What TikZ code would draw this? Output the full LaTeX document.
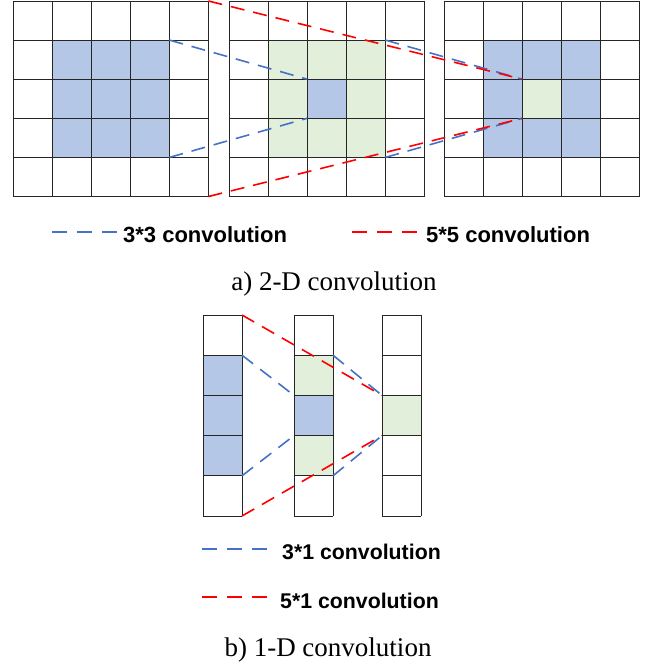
\documentclass[tikz,border=0pt]{standalone}
\usepackage{fontspec}
\setmainfont{Liberation Serif}
\newfontfamily\legfont{Liberation Sans}
\definecolor{cellblue}{HTML}{B4C7E7}
\definecolor{cellgreen}{HTML}{E2EFDA}
\definecolor{lineblue}{HTML}{4472C4}
\definecolor{linered}{HTML}{FF0000}
\begin{document}
\begin{tikzpicture}[x=1pt,y=-1pt,
  gridline/.style={draw=black!85,line width=0.8pt},
  conva/.style={draw=lineblue,line width=1.6pt,dash pattern=on 14pt off 9pt},
  convb/.style={draw=linered,line width=1.6pt,dash pattern=on 14pt off 9pt},
  legline/.style={line width=2pt,dash pattern=on 15pt off 10pt},
  legtext/.style={font=\legfont\bfseries\fontsize{22}{26}\selectfont,anchor=base west,inner sep=0pt},
  legtextb/.style={font=\legfont\bfseries\fontsize{21.3}{26}\selectfont,anchor=base west,inner sep=0pt},
  captext/.style={font=\fontsize{27}{32}\selectfont,anchor=base,inner sep=0pt}]
\useasboundingbox (0,0) rectangle (649,666);
\def\cs{39.1}
% ---------- 2-D grids: fills ----------
% grid A
\fill[cellblue] ({13+\cs},{1+\cs}) rectangle ({13+4*\cs},{1+4*\cs});
% grid B
\fill[cellgreen] ({229+\cs},{1+\cs}) rectangle ({229+4*\cs},{1+4*\cs});
\fill[cellblue] ({229+2*\cs},{1+2*\cs}) rectangle ({229+3*\cs},{1+3*\cs});
% grid C
\fill[cellblue] ({444+\cs},{1+\cs}) rectangle ({444+4*\cs},{1+4*\cs});
\fill[cellgreen] ({444+2*\cs},{1+2*\cs}) rectangle ({444+3*\cs},{1+3*\cs});
% grid lines
\foreach \gx in {13,229,444}{
  \foreach \i in {0,...,5}{
    \draw[gridline] ({\gx+\i*\cs},1) -- ({\gx+\i*\cs},{1+5*\cs});
    \draw[gridline] (\gx,{1+\i*\cs}) -- ({\gx+5*\cs},{1+\i*\cs});
  }
}
% named corner points
\coordinate (Atr) at ({13+5*\cs},1);
\coordinate (Abr) at ({13+5*\cs},{1+5*\cs});
\coordinate (Ab1) at ({13+4*\cs},{1+\cs});
\coordinate (Ab2) at ({13+4*\cs},{1+4*\cs});
\coordinate (Bc1) at ({229+2*\cs},{1+2*\cs});
\coordinate (Bc2) at ({229+2*\cs},{1+3*\cs});
\coordinate (Bb1) at ({229+4*\cs},{1+\cs});
\coordinate (Bb2) at ({229+4*\cs},{1+4*\cs});
\coordinate (Cc1) at ({444+2*\cs},{1+2*\cs});
\coordinate (Cc2) at ({444+2*\cs},{1+3*\cs});
% connectors
\draw[conva] (Ab1) -- (Bc1);
\draw[conva] (Ab2) -- (Bc2);
\draw[conva] (Bb1) -- (Cc1);
\draw[conva] (Bb2) -- (Cc2);
\draw[convb] (Atr) -- (Cc1);
\draw[convb] (Abr) -- (Cc2);
% legend a
\coordinate (la1) at (52,232); \coordinate (la2) at (117,232);
\coordinate (lb1) at (352,232); \coordinate (lb2) at (417,232);
\draw[legline,lineblue] (la1) -- (la2);
\draw[legline,linered] (lb1) -- (lb2);
\node[legtext] (ta) at (123,242) {3*3 convolution};
\node[legtext] (tb) at (426,242) {5*5 convolution};
\node[captext] (capa) at (334,290) {a) 2-D convolution};
% ---------- 1-D columns ----------
\def\ch{40.2}
\def\cw{39}
\fill[cellblue] (203,{315+\ch}) rectangle ({203+\cw},{315+4*\ch});
\fill[cellgreen] (294,{315+\ch}) rectangle ({294+\cw},{315+4*\ch});
\fill[cellblue] (294,{315+2*\ch}) rectangle ({294+\cw},{315+3*\ch});
\fill[cellgreen] (382,{315+2*\ch}) rectangle ({382+\cw},{315+3*\ch});
\foreach \gx in {203,294,382}{
  \draw[gridline] (\gx,315) -- (\gx,{315+5*\ch});
  \draw[gridline] ({\gx+\cw},315) -- ({\gx+\cw},{315+5*\ch});
  \foreach \i in {0,...,5}{
    \draw[gridline] (\gx,{315+\i*\ch}) -- ({\gx+\cw},{315+\i*\ch});
  }
}
\coordinate (Ptr) at ({203+\cw},315);
\coordinate (Pbr) at ({203+\cw},{315+5*\ch});
\coordinate (Pb1) at ({203+\cw},{315+\ch});
\coordinate (Pb2) at ({203+\cw},{315+4*\ch});
\coordinate (Ql1) at (294,{315+2*\ch});
\coordinate (Ql2) at (294,{315+3*\ch});
\coordinate (Qr1) at ({294+\cw},{315+\ch});
\coordinate (Qr2) at ({294+\cw},{315+4*\ch});
\coordinate (Rl1) at (382,{315+2*\ch});
\coordinate (Rl2) at (382,{315+3*\ch});
\draw[conva] (Pb1) -- (Ql1);
\draw[conva] (Pb2) -- (Ql2);
\draw[conva] (Qr1) -- (Rl1);
\draw[conva] (Qr2) -- (Rl2);
\draw[convb] (Ptr) -- (Rl1);
\draw[convb] (Pbr) -- (Rl2);
% legend b
\coordinate (lc1) at (202,549); \coordinate (lc2) at (267,549);
\coordinate (ld1) at (202,597); \coordinate (ld2) at (267,597);
\draw[legline,lineblue] (lc1) -- (lc2);
\draw[legline,linered] (ld1) -- (ld2);
\node[legtextb] (tc) at (282,559) {3*1 convolution};
\node[legtextb] (td) at (280,608) {5*1 convolution};
\node[captext] (capb) at (328,656) {b) 1-D convolution};
\end{tikzpicture}
\end{document}
